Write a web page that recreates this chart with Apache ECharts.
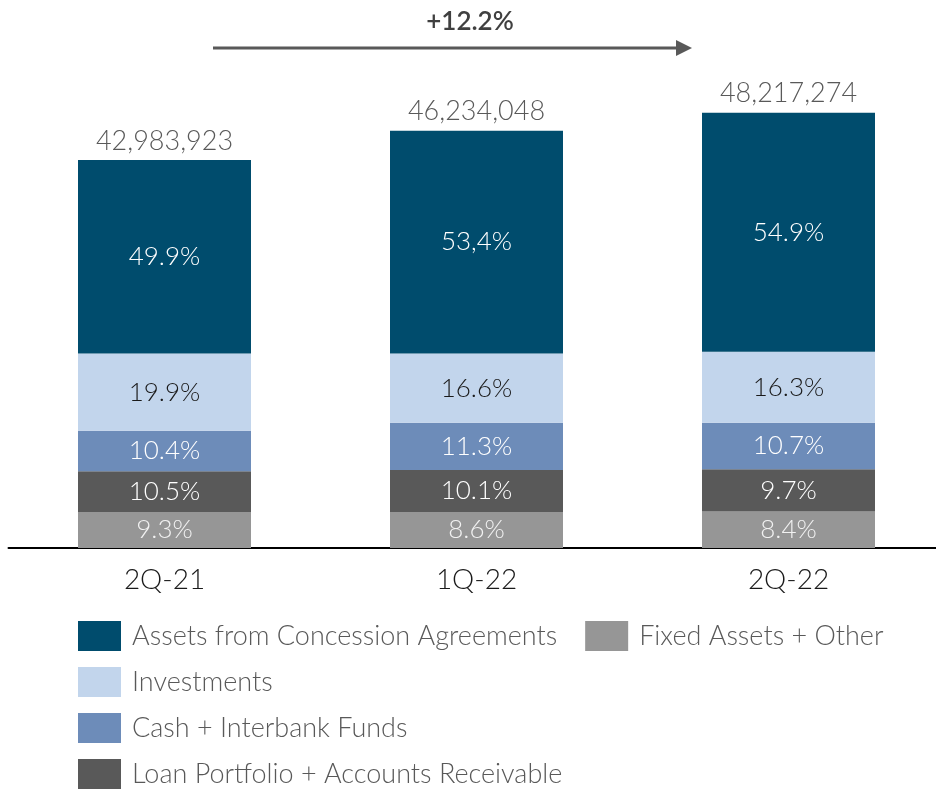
<!DOCTYPE html>
<html>
<head>
<meta charset="utf-8">
<script src="https://cdn.jsdelivr.net/npm/echarts@6/dist/echarts.min.js"></script>
<style>
  html, body { margin: 0; padding: 0; background: #fff; }
  #chart { width: 936px; height: 789px; }
</style>
</head>
<body>
<div id="chart"></div>
<script>
// Quarters shown on the x axis
const quarters = ['2Q-21', '1Q-22', '2Q-22'];
// Total assets per quarter
const totals = [42983923, 46234048, 48217274];
// Share of each asset group in the total (%)
const fixedPct = [9.3, 8.6, 8.4];
const loanPct = [10.5, 10.1, 9.7];
const cashPct = [10.4, 11.3, 10.7];
const investPct = [19.9, 16.6, 16.3];
const concessionPct = [49.9, 53.4, 54.9];
// Label text as printed in the segments
const concessionText = ['49.9%', '53,4%', '54.9%'];
const growthText = '+12.2%';

const FONT = 'Lato, "Open Sans", sans-serif';

function amounts(pct) {
  return pct.map((p, i) => totals[i] * p / 100);
}
function fmtTotal(v) {
  return v.toLocaleString('en-US');
}

function segment(name, pct, color, labelColor, texts) {
  return {
    name: name,
    type: 'bar',
    stack: 'assets',
    barWidth: 173,
    itemStyle: { color: color },
    label: {
      show: true,
      position: 'inside',
      color: labelColor,
      fontFamily: FONT,
      fontWeight: 300,
      fontSize: 26,
      formatter: p => texts ? texts[p.dataIndex] : pct[p.dataIndex].toFixed(1) + '%'
    },
    data: amounts(pct)
  };
}

const chart = echarts.init(document.getElementById('chart'));
const legendText = { color: '#595959', fontFamily: FONT, fontWeight: 300, fontSize: 27, padding: [0, 0, 0, 6] };

chart.setOption({
  animation: false,
  grid: { left: 8.5, top: 6.4, width: 936, bottom: 241, containLabel: false, outerBoundsMode: 'none' },
  xAxis: {
    type: 'category',
    data: quarters,
    axisLine: { lineStyle: { color: '#000', width: 2 } },
    axisTick: { show: false },
    axisLabel: { color: '#1a1a1a', fontFamily: FONT, fontWeight: 300, fontSize: 28, margin: 18 }
  },
  yAxis: { type: 'value', min: 0, max: 60000000, show: false, splitLine: { show: false } },
  legend: [
    {
      data: ['Assets from Concession Agreements', 'Fixed Assets + Other'],
      left: 78, top: 621, orient: 'horizontal', padding: 0,
      itemWidth: 43, itemHeight: 30, itemGap: 28,
      icon: 'rect', textStyle: legendText
    },
    {
      data: ['Investments', 'Cash + Interbank Funds', 'Loan Portfolio + Accounts Receivable'],
      left: 78, top: 667, height: 122, orient: 'vertical', padding: 0,
      itemWidth: 43, itemHeight: 30, itemGap: 16,
      icon: 'rect', textStyle: legendText
    }
  ],
  series: [
    segment('Fixed Assets + Other', fixedPct, '#969696', '#f2f2f2'),
    segment('Loan Portfolio + Accounts Receivable', loanPct, '#595959', '#ffffff'),
    segment('Cash + Interbank Funds', cashPct, '#6d8cb9', '#ffffff'),
    segment('Investments', investPct, '#c2d5ec', '#1a1a1a'),
    segment('Assets from Concession Agreements', concessionPct, '#004c6d', '#ffffff', concessionText),
    {
      name: 'Total',
      type: 'line',
      data: totals,
      symbol: 'circle',
      symbolSize: 1,
      itemStyle: { color: 'rgba(0,0,0,0)', borderWidth: 0 },
      lineStyle: { width: 0, color: 'rgba(0,0,0,0)' },
      silent: true,
      label: {
        show: true,
        position: 'top',
        distance: 5,
        color: '#595959',
        fontFamily: FONT,
        fontWeight: 300,
        fontSize: 27,
        formatter: p => fmtTotal(totals[p.dataIndex])
      }
    }
  ],
  graphic: [
    {
      type: 'line',
      shape: { x1: 213, y1: 48, x2: 678, y2: 48 },
      style: { stroke: '#595959', lineWidth: 3 }
    },
    {
      type: 'polygon',
      shape: { points: [[676, 40], [692, 48], [676, 56]] },
      style: { fill: '#595959' }
    },
    {
      type: 'text',
      x: 470, y: 22,
      style: {
        text: growthText,
        fill: '#404040',
        font: '600 26px ' + FONT,
        align: 'center',
        verticalAlign: 'middle'
      }
    }
  ]
});
</script>
</body>
</html>
